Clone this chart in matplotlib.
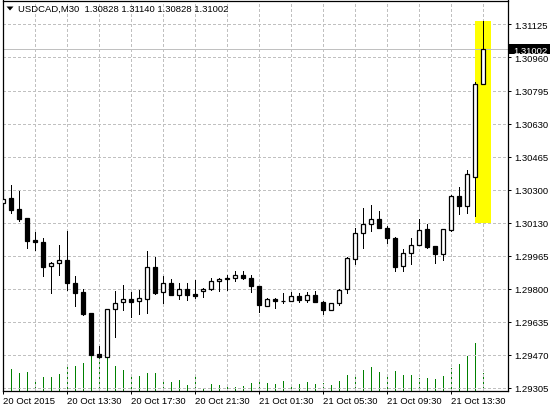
import matplotlib
matplotlib.use("Agg")
import matplotlib.pyplot as plt
from matplotlib.patches import Rectangle, Polygon
from matplotlib.transforms import blended_transform_factory
import numpy as np

# ---------------- data ----------------
symbol = "USDCAD,M30"
title_values = ["1.30828", "1.31140", "1.30828", "1.31002"]

opens = [1.30229, 1.30256, 1.30201, 1.30156, 1.30045, 1.30035, 1.29914, 1.29929, 1.29945, 1.29830,
         1.29785, 1.29680, 1.29474, 1.29461, 1.29698, 1.29733, 1.29748, 1.29738, 1.29751, 1.29909,
         1.29783, 1.29830, 1.29771, 1.29798, 1.29775, 1.29788, 1.29801, 1.29838, 1.29853, 1.29853,
         1.29868, 1.29853, 1.29813, 1.29713, 1.29748, 1.29741, 1.29738, 1.29763, 1.29743, 1.29768,
         1.29733, 1.29693, 1.29728, 1.29798, 1.29952, 1.30079, 1.30124, 1.30149, 1.30104, 1.30054,
         1.29914, 1.29979, 1.30019, 1.30099, 1.30014, 1.29974, 1.30097, 1.30266, 1.30217, 1.30359,
         1.30828]
highs = [1.30262, 1.30321, 1.30291, 1.30156, 1.30085, 1.30055, 1.29934, 1.30020, 1.30090, 1.29865,
         1.29800, 1.29680, 1.29516, 1.29698, 1.29790, 1.29820, 1.29785, 1.29795, 1.29990, 1.29960,
         1.29863, 1.29848, 1.29828, 1.29828, 1.29845, 1.29803, 1.29855, 1.29855, 1.29868, 1.29889,
         1.29889, 1.29868, 1.29813, 1.29753, 1.29753, 1.29778, 1.29783, 1.29780, 1.29783, 1.29788,
         1.29738, 1.29728, 1.29800, 1.29960, 1.30105, 1.30206, 1.30222, 1.30189, 1.30117, 1.30059,
         1.29999, 1.30054, 1.30149, 1.30124, 1.30014, 1.30099, 1.30271, 1.30309, 1.30396, 1.30837,
         1.31140]
lows = [1.30139, 1.30182, 1.30142, 1.30007, 1.29997, 1.29866, 1.29781, 1.29871, 1.29796, 1.29716,
        1.29671, 1.29468, 1.29458, 1.29458, 1.29557, 1.29696, 1.29661, 1.29676, 1.29681, 1.29776,
        1.29731, 1.29771, 1.29751, 1.29746, 1.29756, 1.29758, 1.29795, 1.29791, 1.29796, 1.29841,
        1.29848, 1.29783, 1.29683, 1.29713, 1.29706, 1.29728, 1.29738, 1.29733, 1.29735, 1.29733,
        1.29673, 1.29693, 1.29721, 1.29781, 1.29927, 1.30007, 1.30092, 1.30104, 1.30029, 1.29892,
        1.29889, 1.29924, 1.30019, 1.30004, 1.29929, 1.29947, 1.30089, 1.30177, 1.30181, 1.30167,
        1.30828]
closes = [1.30249, 1.30197, 1.30152, 1.30042, 1.30037, 1.29912, 1.29929, 1.29945, 1.29828, 1.29781,
          1.29676, 1.29468, 1.29461, 1.29698, 1.29728, 1.29748, 1.29736, 1.29753, 1.29909, 1.29780,
          1.29830, 1.29771, 1.29798, 1.29771, 1.29765, 1.29798, 1.29838, 1.29848, 1.29848, 1.29868,
          1.29853, 1.29813, 1.29718, 1.29748, 1.29738, 1.29738, 1.29763, 1.29743, 1.29768, 1.29733,
          1.29693, 1.29728, 1.29795, 1.29955, 1.30079, 1.30125, 1.30149, 1.30104, 1.30054, 1.29912,
          1.29979, 1.30019, 1.30094, 1.30012, 1.29974, 1.30099, 1.30266, 1.30217, 1.30375, 1.30826,
          1.31002]
volumes = [430, 650, 530, 560, 350, 410, 410, 500, 770, 740,
           830, 1150, 1200, 1000, 740, 620, 440, 440, 530, 530,
           350, 260, 320, 170, 500, 80, 200, 170, 140, 110,
           140, 230, 320, 230, 200, 290, 140, 200, 260, 200,
           230, 170, 290, 470, 500, 620, 710, 560, 470, 590,
           470, 470, 380, 380, 350, 440, 680, 800, 1040, 1430,
           530]

xtick_idx = [0, 8, 16, 24, 32, 40, 48, 56]
xtick_labels = ["20 Oct 2015", "20 Oct 13:30", "20 Oct 17:30", "20 Oct 21:30",
                "21 Oct 01:30", "21 Oct 05:30", "21 Oct 09:30", "21 Oct 13:30"]
price_labels = ["1.29305", "1.29470", "1.29635", "1.29800", "1.29965", "1.30130",
                "1.30300", "1.30465", "1.30630", "1.30795", "1.30960", "1.31125"]
last_price = 1.31002
highlight_low, highlight_high = 1.30130, 1.31140

# ---------------- figure ----------------
W, H = 550, 410
fig = plt.figure(figsize=(W / 100, H / 100), dpi=100)
fig.patch.set_facecolor("white")
FONT = "Liberation Sans"
FS = 6.8
PX = 0.72  # one pixel in points

left_px, right_px, top_px, bottom_px = 2.5, 507.5, 1.5, 392.0
ax = fig.add_axes([left_px / W, (H - bottom_px) / H,
                   (right_px - left_px) / W, (bottom_px - top_px) / H])
axv = ax.twinx()
ax.set_zorder(axv.get_zorder() + 1)
ax.patch.set_visible(False)
axv.patch.set_facecolor("white")

n = len(opens)
x = np.arange(n)
o = np.array(opens); h = np.array(highs); l = np.array(lows); c = np.array(closes)

ax.set_xlim(-0.1, 63.025)
ax.set_ylim(1.29289, 1.31245)
axv.set_ylim(0, 11715)

# volumes
axv.vlines(x, 0, volumes, color="#008000", lw=PX, antialiased=False)
axv.set_yticks([])
for s in axv.spines.values():
    s.set_visible(False)

# grid
price_ticks = np.linspace(float(price_labels[0]), float(price_labels[-1]), len(price_labels))
dash = (0, (2.2, 2.2))
for p in price_ticks:
    ax.axhline(p, color="#c0c0c0", lw=PX, ls=dash, zorder=0.5, antialiased=False)
for gx in range(4, n, 4):
    ax.axvline(gx, color="#c0c0c0", lw=PX, ls=dash, zorder=0.5, antialiased=False)

# highlight
ax.add_patch(Rectangle((n - 2, highlight_low), 2, highlight_high - highlight_low,
                       facecolor="#ffff00", edgecolor="none", zorder=0.8))

# current price line
ax.axhline(last_price, color="#c0c0c0", lw=PX, zorder=0.9, antialiased=False)

# candles
ax.vlines(x, l, h, color="black", lw=PX, zorder=2, antialiased=False)
up = c >= o
body_bottom = np.minimum(o, c)
body_h = np.abs(c - o)
ax.bar(x, body_h, 0.5, bottom=body_bottom, color=np.where(up, "white", "black"),
       edgecolor="black", linewidth=0.9, zorder=3)

# axes style
for s in ax.spines.values():
    s.set_color("black")
    s.set_linewidth(0.9)
ax.yaxis.tick_right()
ax.set_yticks(price_ticks)
ax.set_yticklabels(price_labels)
ax.set_xticks(xtick_idx)
ax.set_xticklabels(xtick_labels)
for lab in ax.get_xticklabels():
    lab.set_horizontalalignment("left")
ax.tick_params(axis="both", direction="out", length=2.3, width=PX, colors="black",
               labelsize=FS, pad=1.5)
ax.tick_params(axis="y", pad=2.5)
for lab in ax.get_xticklabels() + ax.get_yticklabels():
    lab.set_fontfamily(FONT)

# price box
tr = blended_transform_factory(ax.transAxes, ax.transData)
box_w = 42.5 / (right_px - left_px)
ax.add_patch(Rectangle((1.0, last_price - 0.00024), box_w, 0.00048, transform=tr,
                       facecolor="black", edgecolor="none", clip_on=False, zorder=20))
ax.text(1.0 + 5.5 / (right_px - left_px), last_price, f"{last_price:.5f}", transform=tr,
        color="white", fontsize=FS, fontfamily=FONT, va="center_baseline", ha="left",
        clip_on=False, zorder=21)

# title
tri = [(6.5, 7.5), (13.5, 7.5), (10.0, 11.5)]
fig.patches.append(Polygon([(px / W, 1 - py / H) for px, py in tri], closed=True,
                           transform=fig.transFigure, facecolor="black", edgecolor="none",
                           zorder=30))
fig.text(18 / W, 1 - 9 / H, symbol + "  " + " ".join(title_values), fontsize=FS,
         fontfamily=FONT, color="black", va="center", ha="left", zorder=30)

fig.savefig("out.png", dpi=100, facecolor="white")
